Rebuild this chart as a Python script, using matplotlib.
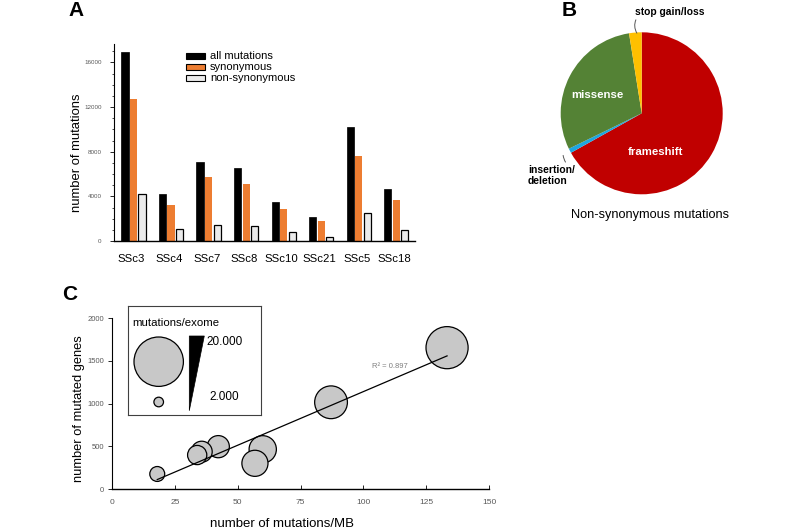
import numpy as np
import matplotlib
matplotlib.use('Agg')
import matplotlib.pyplot as plt
from matplotlib.patches import Circle, Polygon, Rectangle

plt.rcParams['font.family'] = ['Liberation Sans', 'DejaVu Sans']

# ---------------- data ----------------
samples = ['SSc3', 'SSc4', 'SSc7', 'SSc8', 'SSc10', 'SSc21', 'SSc5', 'SSc18']
all_mut = [16900, 4200, 7100, 6500, 3520, 2120, 10230, 4680]
syn_mut = [12730, 3220, 5730, 5070, 2840, 1790, 7630, 3670]
nonsyn_mut = [4180, 1040, 1430, 1340, 780, 360, 2530, 980]
bar_labels = ['all mutations', 'synonymous', 'non-synonymous']

pie_labels = ['frameshift', 'insertion/\ndeletion', 'missense', 'stop gain/loss']
pie_values = [66.9, 0.9, 29.7, 2.5]

mut_per_mb = [133.3, 35.6, 59.9, 56.8, 33.8, 17.9, 87.1, 42.2]
mutated_genes = [1656, 437, 465, 301, 398, 176, 1016, 496]
r2_text = 'R² = 0.897'
legend_values = ['20.000', '2.000']

# ---------------- layout helpers (pixels -> figure fraction) ----------------
W, H = 800, 530


def box(l, t, r, b):
    return [l / W, 1 - b / H, (r - l) / W, (b - t) / H]


def fx(px):
    return px / W


def fy(py):
    return 1 - py / H


fig = plt.figure(figsize=(8, 5.3), dpi=100)
tick_grey = '#595959'

# ---------------- panel A ----------------
axA = fig.add_axes(box(114, 44, 415, 241))
x = np.arange(len(samples))
bw, step = 0.19, 0.227
colors_A = ['black', '#ED7D31', '#EBEBEB']
axA.bar(x - step, all_mut, bw, color=colors_A[0], edgecolor='black', lw=0.5)
axA.bar(x, syn_mut, bw, color=colors_A[1], lw=0)
axA.bar(x + step, nonsyn_mut, bw, color=colors_A[2], edgecolor='black', lw=0.9)
axA.set_xlim(-0.52, 7.5)
axA.set_ylim(0, 17650)
axA.set_xticks(x - 0.05)
axA.set_xticklabels(samples, fontsize=8.2)
axA.tick_params(axis='x', length=0, pad=9)
axA.set_yticks(np.arange(0, 16001, 4000))
axA.set_yticks(np.arange(0, 17001, 1000), minor=True)
axA.tick_params(axis='y', labelsize=4.5, labelcolor=tick_grey, length=3, width=0.6, pad=6)
axA.tick_params(axis='y', which='minor', length=1.5, width=0.5)
for s in ['top', 'right']:
    axA.spines[s].set_visible(False)
axA.spines['left'].set_linewidth(0.8)
axA.spines['bottom'].set_linewidth(1.0)
axA.set_ylabel('number of mutations', fontsize=9.4)
axA.yaxis.set_label_coords(-0.103, 0.447)

# legend drawn by hand
leg_y = [56, 66.8, 77.6]
for lab, col, yy in zip(bar_labels, colors_A, leg_y):
    fig.patches.append(Rectangle((fx(186), fy(yy + 3)), fx(19), 6 / H,
                                 facecolor=col, edgecolor='black', lw=0.8,
                                 transform=fig.transFigure))
    fig.text(fx(210), fy(yy), lab, fontsize=8.0, ha='left', va='center')

# ---------------- panel B ----------------
axB = fig.add_axes(box(560.7, 32.3, 722.7, 194.3))
pie_colors = ['#C00000', '#1EA6E0', '#548235', '#FFC000']
axB.pie(pie_values, colors=pie_colors, startangle=90, counterclock=False,
        radius=1, wedgeprops=dict(linewidth=0))
axB.set_xlim(-1, 1)
axB.set_ylim(-1, 1)
axB.set_aspect('equal')
axB.axis('off')
axB.text(-0.55, 0.226, pie_labels[2], color='white', fontsize=8.2,
         fontweight='bold', ha='center', va='center')
axB.text(0.17, -0.478, pie_labels[0], color='white', fontsize=8.2,
         fontweight='bold', ha='center', va='center')
axB.annotate(pie_labels[3], xy=(-0.06, 0.99), xytext=(0.35, 1.25),
             fontsize=7.4, fontweight='bold', ha='center', va='center',
             annotation_clip=False,
             arrowprops=dict(arrowstyle='-', color='#555555', lw=0.7,
                             shrinkA=0, shrinkB=0,
                             relpos=(0.03, 0.0),
                             connectionstyle='arc3,rad=0.3'))
axB.annotate(pie_labels[1], xy=(-0.97, -0.52), xytext=(-1.404, -0.77),
             fontsize=7.4, fontweight='bold', ha='left', va='center',
             annotation_clip=False,
             arrowprops=dict(arrowstyle='-', color='#555555', lw=0.7,
                             shrinkA=0, shrinkB=0,
                             relpos=(1.0, 0.8),
                             connectionstyle='arc3,rad=-0.3'))
fig.text(fx(650), fy(215), 'Non-synonymous mutations', fontsize=9.2,
         ha='center', va='center')

# ---------------- panel C ----------------
axC = fig.add_axes(box(112.3, 318.3, 489, 489))
order = np.argsort(all_mut)[::-1]
xs = np.array(mut_per_mb)[order]
ys = np.array(mutated_genes)[order]
sizes = 0.0544 * np.array(all_mut)[order]
axC.scatter(xs, ys, s=sizes, c='#C8C8C8', edgecolors='black', linewidths=0.9,
            zorder=3)
slope, icpt = np.polyfit(mut_per_mb, mutated_genes, 1)
xl = np.array([min(mut_per_mb), max(mut_per_mb)])
axC.plot(xl, slope * xl + icpt, color='black', lw=0.9, zorder=4)
axC.text(110.6, 1433, r2_text, fontsize=5.5, color='#7F7F7F',
         ha='center', va='center')
axC.set_xlim(0, 150)
axC.set_ylim(0, 2000)
axC.set_xticks(np.arange(0, 151, 25))
axC.set_yticks(np.arange(0, 2001, 500))
axC.tick_params(axis='x', direction='in', length=3, width=0.6, labelsize=6,
                labelcolor=tick_grey, pad=7)
axC.tick_params(axis='y', direction='out', length=3, width=0.6, labelsize=5.5,
                labelcolor=tick_grey, pad=3)
for s in ['top', 'right']:
    axC.spines[s].set_visible(False)
axC.spines['left'].set_linewidth(0.8)
axC.spines['bottom'].set_linewidth(1.0)
axC.set_ylabel('number of mutated genes', fontsize=9.3)
axC.yaxis.set_label_coords(-0.0725, 0.473)
axC.set_xlabel('number of mutations/MB', fontsize=9.5)
axC.xaxis.set_label_coords(0.45, -0.17)

# bubble size key (box in pixel units)
axL = fig.add_axes(box(128.3, 306, 261, 415))
axL.set_xlim(0, 132.7)
axL.set_ylim(109, 0)
axL.set_xticks([])
axL.set_yticks([])
for s in axL.spines.values():
    s.set_linewidth(0.8)
    s.set_color('#404040')
axL.text(4.4, 16.7, 'mutations/exome', fontsize=8.2, ha='left', va='center')
axL.add_patch(Circle((30.4, 55.7), 24.7, facecolor='#C8C8C8',
                     edgecolor='black', lw=0.9))
axL.add_patch(Circle((30.4, 96), 4.8, facecolor='#C8C8C8',
                     edgecolor='black', lw=0.9))
axL.add_patch(Polygon([(61, 30), (76, 30), (61, 104.7)], closed=True,
                      facecolor='black', edgecolor='black', lw=0.5))
axL.text(78.4, 35.7, legend_values[0], fontsize=8.5, ha='left', va='center')
axL.text(81, 90.7, legend_values[1], fontsize=8.5, ha='left', va='center')

# panel letters
for letter, px, py in [('A', 68, 10), ('B', 562, 11), ('C', 62, 295)]:
    fig.text(fx(px), fy(py), letter, fontsize=15, fontweight='bold',
             ha='left', va='center')

fig.savefig('out.png', dpi=100)
